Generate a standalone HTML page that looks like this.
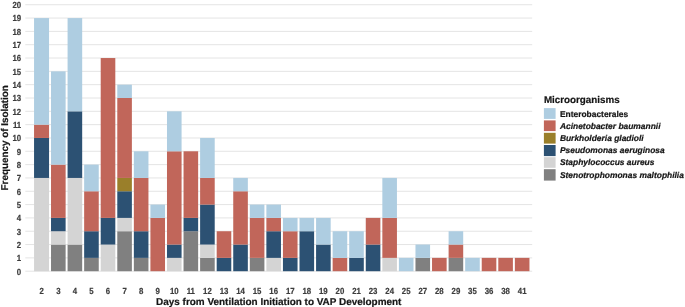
<!DOCTYPE html>
<html><head><meta charset="utf-8"><title>chart</title>
<style>
html,body{margin:0;padding:0;background:#fff;}
body{width:685px;height:307px;overflow:hidden;font-family:"Liberation Sans",sans-serif;}
svg{display:block;will-change:transform;text-rendering:geometricPrecision;font-family:"Liberation Sans",sans-serif;}
.t{font-weight:bold;font-size:8.8px;fill:#3c3c3c;stroke:#3c3c3c;stroke-width:0.2px;}
.ax{font-weight:bold;font-size:9.9px;fill:#151515;stroke:#151515;stroke-width:0.2px;}
.lg{font-weight:bold;font-size:8.43px;fill:#151515;stroke:#151515;stroke-width:0.2px;}
.it{font-style:italic;}
</style></head><body>
<svg width="685" height="307" viewBox="0 0 685 307">
<rect width="685" height="307" fill="#fff"/>

<g stroke="#e4e4e4" stroke-width="1">
<line x1="25.3" x2="532.2" y1="271.20" y2="271.20"/>
<line x1="25.3" x2="532.2" y1="257.88" y2="257.88"/>
<line x1="25.3" x2="532.2" y1="244.55" y2="244.55"/>
<line x1="25.3" x2="532.2" y1="231.23" y2="231.23"/>
<line x1="25.3" x2="532.2" y1="217.91" y2="217.91"/>
<line x1="25.3" x2="532.2" y1="204.58" y2="204.58"/>
<line x1="25.3" x2="532.2" y1="191.26" y2="191.26"/>
<line x1="25.3" x2="532.2" y1="177.94" y2="177.94"/>
<line x1="25.3" x2="532.2" y1="164.62" y2="164.62"/>
<line x1="25.3" x2="532.2" y1="151.29" y2="151.29"/>
<line x1="25.3" x2="532.2" y1="137.97" y2="137.97"/>
<line x1="25.3" x2="532.2" y1="124.65" y2="124.65"/>
<line x1="25.3" x2="532.2" y1="111.32" y2="111.32"/>
<line x1="25.3" x2="532.2" y1="98.00" y2="98.00"/>
<line x1="25.3" x2="532.2" y1="84.68" y2="84.68"/>
<line x1="25.3" x2="532.2" y1="71.35" y2="71.35"/>
<line x1="25.3" x2="532.2" y1="58.03" y2="58.03"/>
<line x1="25.3" x2="532.2" y1="44.71" y2="44.71"/>
<line x1="25.3" x2="532.2" y1="31.39" y2="31.39"/>
<line x1="25.3" x2="532.2" y1="18.06" y2="18.06"/>
<line x1="25.3" x2="532.2" y1="4.74" y2="4.74"/>
</g>
<g class="t" text-anchor="end">
<text transform="translate(21.2,274.50) scale(0.89,1)">0</text>
<text transform="translate(21.2,261.18) scale(0.89,1)">1</text>
<text transform="translate(21.2,247.85) scale(0.89,1)">2</text>
<text transform="translate(21.2,234.53) scale(0.89,1)">3</text>
<text transform="translate(21.2,221.21) scale(0.89,1)">4</text>
<text transform="translate(21.2,207.88) scale(0.89,1)">5</text>
<text transform="translate(21.2,194.56) scale(0.89,1)">6</text>
<text transform="translate(21.2,181.24) scale(0.89,1)">7</text>
<text transform="translate(21.2,167.92) scale(0.89,1)">8</text>
<text transform="translate(21.2,154.59) scale(0.89,1)">9</text>
<text transform="translate(21.2,141.27) scale(0.89,1)">10</text>
<text transform="translate(21.2,127.95) scale(0.89,1)">11</text>
<text transform="translate(21.2,114.62) scale(0.89,1)">12</text>
<text transform="translate(21.2,101.30) scale(0.89,1)">13</text>
<text transform="translate(21.2,87.98) scale(0.89,1)">14</text>
<text transform="translate(21.2,74.65) scale(0.89,1)">15</text>
<text transform="translate(21.2,61.33) scale(0.89,1)">16</text>
<text transform="translate(21.2,48.01) scale(0.89,1)">17</text>
<text transform="translate(21.2,34.69) scale(0.89,1)">18</text>
<text transform="translate(21.2,21.36) scale(0.89,1)">19</text>
<text transform="translate(21.2,8.04) scale(0.89,1)">20</text>
</g>
<rect x="34.05" y="177.94" width="15.00" height="93.26" fill="#d4d4d4"/>
<rect x="34.05" y="137.97" width="15.00" height="39.97" fill="#2c5173"/>
<rect x="34.05" y="124.65" width="15.00" height="13.32" fill="#c1665a"/>
<rect x="34.05" y="18.06" width="15.00" height="106.58" fill="#aecde1"/>
<rect x="51.02" y="244.55" width="14.60" height="26.65" fill="#808080"/>
<rect x="51.02" y="231.23" width="14.60" height="13.32" fill="#d4d4d4"/>
<rect x="51.02" y="217.91" width="14.60" height="13.32" fill="#2c5173"/>
<rect x="51.02" y="164.62" width="14.60" height="53.29" fill="#c1665a"/>
<rect x="51.02" y="71.35" width="14.60" height="93.26" fill="#aecde1"/>
<rect x="67.58" y="244.55" width="14.60" height="26.65" fill="#808080"/>
<rect x="67.58" y="177.94" width="14.60" height="66.62" fill="#d4d4d4"/>
<rect x="67.58" y="111.32" width="14.60" height="66.62" fill="#2c5173"/>
<rect x="67.58" y="18.06" width="14.60" height="93.26" fill="#aecde1"/>
<rect x="84.15" y="257.88" width="14.60" height="13.32" fill="#808080"/>
<rect x="84.15" y="231.23" width="14.60" height="26.65" fill="#2c5173"/>
<rect x="84.15" y="191.26" width="14.60" height="39.97" fill="#c1665a"/>
<rect x="84.15" y="164.62" width="14.60" height="26.65" fill="#aecde1"/>
<rect x="100.71" y="244.55" width="14.60" height="26.65" fill="#d4d4d4"/>
<rect x="100.71" y="217.91" width="14.60" height="26.65" fill="#2c5173"/>
<rect x="100.71" y="58.03" width="14.60" height="159.88" fill="#c1665a"/>
<rect x="117.28" y="231.23" width="14.60" height="39.97" fill="#808080"/>
<rect x="117.28" y="217.91" width="14.60" height="13.32" fill="#d4d4d4"/>
<rect x="117.28" y="191.26" width="14.60" height="26.65" fill="#2c5173"/>
<rect x="117.28" y="177.94" width="14.60" height="13.32" fill="#9a7f2a"/>
<rect x="117.28" y="98.00" width="14.60" height="79.94" fill="#c1665a"/>
<rect x="117.28" y="84.68" width="14.60" height="13.32" fill="#aecde1"/>
<rect x="133.85" y="257.88" width="14.60" height="13.32" fill="#808080"/>
<rect x="133.85" y="231.23" width="14.60" height="26.65" fill="#2c5173"/>
<rect x="133.85" y="177.94" width="14.60" height="53.29" fill="#c1665a"/>
<rect x="133.85" y="151.29" width="14.60" height="26.65" fill="#aecde1"/>
<rect x="150.41" y="217.91" width="14.60" height="53.29" fill="#c1665a"/>
<rect x="150.41" y="204.58" width="14.60" height="13.32" fill="#aecde1"/>
<rect x="166.98" y="257.88" width="14.60" height="13.32" fill="#d4d4d4"/>
<rect x="166.98" y="244.55" width="14.60" height="13.32" fill="#2c5173"/>
<rect x="166.98" y="151.29" width="14.60" height="93.26" fill="#c1665a"/>
<rect x="166.98" y="111.32" width="14.60" height="39.97" fill="#aecde1"/>
<rect x="183.54" y="231.23" width="14.60" height="39.97" fill="#808080"/>
<rect x="183.54" y="217.91" width="14.60" height="13.32" fill="#2c5173"/>
<rect x="183.54" y="151.29" width="14.60" height="66.62" fill="#c1665a"/>
<rect x="200.11" y="257.88" width="14.60" height="13.32" fill="#808080"/>
<rect x="200.11" y="244.55" width="14.60" height="13.32" fill="#d4d4d4"/>
<rect x="200.11" y="204.58" width="14.60" height="39.97" fill="#2c5173"/>
<rect x="200.11" y="177.94" width="14.60" height="26.65" fill="#c1665a"/>
<rect x="200.11" y="137.97" width="14.60" height="39.97" fill="#aecde1"/>
<rect x="216.68" y="257.88" width="14.60" height="13.32" fill="#2c5173"/>
<rect x="216.68" y="231.23" width="14.60" height="26.65" fill="#c1665a"/>
<rect x="233.24" y="244.55" width="14.60" height="26.65" fill="#2c5173"/>
<rect x="233.24" y="191.26" width="14.60" height="53.29" fill="#c1665a"/>
<rect x="233.24" y="177.94" width="14.60" height="13.32" fill="#aecde1"/>
<rect x="249.81" y="257.88" width="14.60" height="13.32" fill="#808080"/>
<rect x="249.81" y="217.91" width="14.60" height="39.97" fill="#c1665a"/>
<rect x="249.81" y="204.58" width="14.60" height="13.32" fill="#aecde1"/>
<rect x="266.37" y="257.88" width="14.60" height="13.32" fill="#d4d4d4"/>
<rect x="266.37" y="231.23" width="14.60" height="26.65" fill="#2c5173"/>
<rect x="266.37" y="217.91" width="14.60" height="13.32" fill="#c1665a"/>
<rect x="266.37" y="204.58" width="14.60" height="13.32" fill="#aecde1"/>
<rect x="282.94" y="257.88" width="14.60" height="13.32" fill="#2c5173"/>
<rect x="282.94" y="231.23" width="14.60" height="26.65" fill="#c1665a"/>
<rect x="282.94" y="217.91" width="14.60" height="13.32" fill="#aecde1"/>
<rect x="299.51" y="231.23" width="14.60" height="39.97" fill="#2c5173"/>
<rect x="299.51" y="217.91" width="14.60" height="13.32" fill="#aecde1"/>
<rect x="316.07" y="244.55" width="14.60" height="26.65" fill="#2c5173"/>
<rect x="316.07" y="217.91" width="14.60" height="26.65" fill="#aecde1"/>
<rect x="332.64" y="257.88" width="14.60" height="13.32" fill="#c1665a"/>
<rect x="332.64" y="231.23" width="14.60" height="26.65" fill="#aecde1"/>
<rect x="349.20" y="257.88" width="14.60" height="13.32" fill="#2c5173"/>
<rect x="349.20" y="231.23" width="14.60" height="26.65" fill="#aecde1"/>
<rect x="365.77" y="244.55" width="14.60" height="26.65" fill="#2c5173"/>
<rect x="365.77" y="217.91" width="14.60" height="26.65" fill="#c1665a"/>
<rect x="382.34" y="257.88" width="14.60" height="13.32" fill="#d4d4d4"/>
<rect x="382.34" y="217.91" width="14.60" height="39.97" fill="#c1665a"/>
<rect x="382.34" y="177.94" width="14.60" height="39.97" fill="#aecde1"/>
<rect x="398.90" y="257.88" width="14.60" height="13.32" fill="#aecde1"/>
<rect x="415.47" y="257.88" width="14.60" height="13.32" fill="#808080"/>
<rect x="415.47" y="244.55" width="14.60" height="13.32" fill="#aecde1"/>
<rect x="432.03" y="257.88" width="14.60" height="13.32" fill="#c1665a"/>
<rect x="448.60" y="257.88" width="14.60" height="13.32" fill="#808080"/>
<rect x="448.60" y="244.55" width="14.60" height="13.32" fill="#c1665a"/>
<rect x="448.60" y="231.23" width="14.60" height="13.32" fill="#aecde1"/>
<rect x="465.17" y="257.88" width="14.60" height="13.32" fill="#aecde1"/>
<rect x="481.73" y="257.88" width="14.60" height="13.32" fill="#c1665a"/>
<rect x="498.30" y="257.88" width="14.60" height="13.32" fill="#c1665a"/>
<rect x="514.86" y="257.88" width="14.60" height="13.32" fill="#c1665a"/>
<g class="t" text-anchor="middle">
<text transform="translate(41.75,294.3) scale(0.89,1)">2</text>
<text transform="translate(58.32,294.3) scale(0.89,1)">3</text>
<text transform="translate(74.88,294.3) scale(0.89,1)">4</text>
<text transform="translate(91.45,294.3) scale(0.89,1)">5</text>
<text transform="translate(108.01,294.3) scale(0.89,1)">6</text>
<text transform="translate(124.58,294.3) scale(0.89,1)">7</text>
<text transform="translate(141.15,294.3) scale(0.89,1)">8</text>
<text transform="translate(157.71,294.3) scale(0.89,1)">9</text>
<text transform="translate(174.28,294.3) scale(0.89,1)">10</text>
<text transform="translate(190.84,294.3) scale(0.89,1)">11</text>
<text transform="translate(207.41,294.3) scale(0.89,1)">12</text>
<text transform="translate(223.98,294.3) scale(0.89,1)">13</text>
<text transform="translate(240.54,294.3) scale(0.89,1)">14</text>
<text transform="translate(257.11,294.3) scale(0.89,1)">15</text>
<text transform="translate(273.67,294.3) scale(0.89,1)">16</text>
<text transform="translate(290.24,294.3) scale(0.89,1)">17</text>
<text transform="translate(306.81,294.3) scale(0.89,1)">18</text>
<text transform="translate(323.37,294.3) scale(0.89,1)">19</text>
<text transform="translate(339.94,294.3) scale(0.89,1)">20</text>
<text transform="translate(356.50,294.3) scale(0.89,1)">21</text>
<text transform="translate(373.07,294.3) scale(0.89,1)">23</text>
<text transform="translate(389.64,294.3) scale(0.89,1)">24</text>
<text transform="translate(406.20,294.3) scale(0.89,1)">25</text>
<text transform="translate(422.77,294.3) scale(0.89,1)">27</text>
<text transform="translate(439.33,294.3) scale(0.89,1)">28</text>
<text transform="translate(455.90,294.3) scale(0.89,1)">29</text>
<text transform="translate(472.47,294.3) scale(0.89,1)">35</text>
<text transform="translate(489.03,294.3) scale(0.89,1)">36</text>
<text transform="translate(505.60,294.3) scale(0.89,1)">38</text>
<text transform="translate(522.16,294.3) scale(0.89,1)">41</text>
</g>
<text class="ax" text-anchor="middle" x="278.75" y="304.9" style="font-size:9.95px">Days from Ventilation Initiation to VAP Development</text>
<text class="ax" text-anchor="middle" transform="translate(8.2,137.8) rotate(-90)">Frequency of Isolation</text>
<text class="ax" x="543.9" y="103.3" style="font-size:9.82px">Microorganisms</text>
<rect x="543.9" y="108.10" width="11.7" height="10.8" fill="#aecde1"/>
<text class="lg" x="559.9" y="117.00">Enterobacterales</text>
<rect x="543.9" y="120.40" width="11.7" height="10.7" fill="#c1665a"/>
<text class="lg it" x="559.9" y="129.20">Acinetobacter baumannii</text>
<rect x="543.9" y="132.80" width="11.7" height="10.8" fill="#9a7f2a"/>
<text class="lg it" x="559.9" y="141.10">Burkholderia gladioli</text>
<rect x="543.9" y="145.00" width="11.7" height="11.1" fill="#2c5173"/>
<text class="lg it" x="559.9" y="152.80">Pseudomonas aeruginosa</text>
<rect x="543.9" y="157.20" width="11.7" height="10.6" fill="#d4d4d4"/>
<text class="lg it" x="559.9" y="165.25">Staphylococcus aureus</text>
<rect x="543.9" y="169.20" width="11.7" height="11.4" fill="#808080"/>
<text class="lg it" x="559.9" y="177.65">Stenotrophomonas maltophilia</text>
</svg></body></html>
